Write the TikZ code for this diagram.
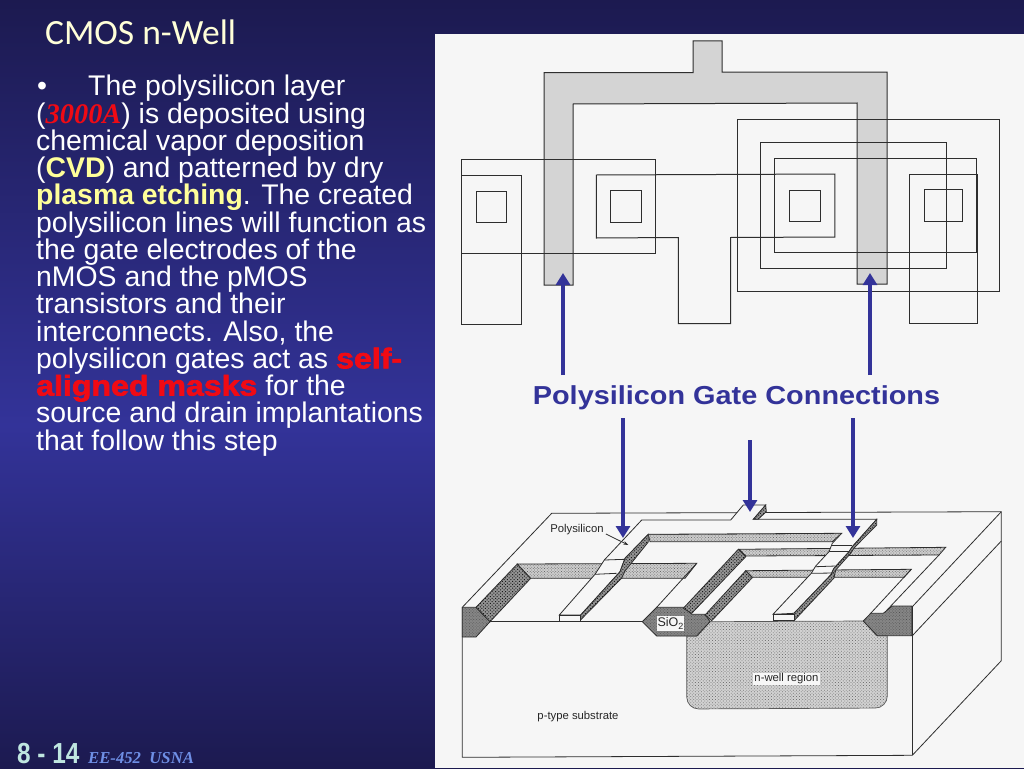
\documentclass[tikz,border=0pt]{standalone}
\usepackage{fontspec}
\setmainfont{Liberation Sans}
\newfontfamily\titlefont{Carlito}
\newfontfamily\serifbi{Liberation Serif}[BoldItalicFont={Liberation Serif Bold Italic}]
\newfontfamily\heavyfont{Liberation Sans Bold}[FakeBold=2.4,FakeStretch=1.13]
\usetikzlibrary{arrows.meta,patterns.meta}
\definecolor{navytop}{HTML}{1C1A50}
\definecolor{navymid}{HTML}{333399}
\definecolor{paper}{HTML}{F6F6F6}
\definecolor{linegray}{HTML}{2E2E2E}
\definecolor{softyellow}{HTML}{FFFF99}
\definecolor{paleyellow}{HTML}{FFFFD8}
\definecolor{maskred}{HTML}{F00A14}
\definecolor{footcyan}{HTML}{BFE6E0}
\definecolor{footblue}{HTML}{6F8FE6}
\begin{document}
\begin{tikzpicture}[x=1pt,y=-1pt,
  layout/.style={draw=linegray, line width=1pt},
  polyfill/.style={layout, preaction={fill=black!14}, pattern={Dots[distance=2pt,radius=.45pt,angle=0]}, pattern color=black!45},
  thinline/.style={draw=linegray, line width=.8pt},
  oxidedark/.style={thinline, preaction={fill=black!48}, pattern={Dots[distance=2pt,radius=.45pt,angle=45]}, pattern color=black!70},
  oxideband/.style={thinline, preaction={fill=black!42}, pattern={Dots[distance=2.4pt,radius=.7pt,angle=45]}, pattern color=black!90},
  oxidegray/.style={thinline, preaction={fill=black!20}, pattern={Dots[distance=2pt,radius=.5pt,angle=45]}, pattern color=black!60},
  wellfill/.style={draw=black!65, line width=.7pt, preaction={fill=black!18}, pattern={Dots[distance=2.2pt,radius=.55pt,angle=45]}, pattern color=black!55},
  polytop/.style={thinline, fill=paper},
  smalllabel/.style={font=\fontsize{11.3}{13}\selectfont, inner sep=1pt, text=black!85},
  bluearrow/.style={draw=navymid, line width=3.2pt, -{Triangle[length=12pt,width=14pt]}}
]
\useasboundingbox (0,0) rectangle (1024,768);
\shade[top color=navytop, bottom color=navymid] (0,0) rectangle (1024,425);
\shade[top color=navymid, bottom color=navytop] (0,425) rectangle (1024,768);
\fill[paper] (435,34) rectangle (1024,768);

\node[anchor=base west, inner sep=0pt, text=paleyellow, font=\titlefont\fontsize{35.5}{37}\selectfont] (title) at (45,45) {CMOS n-Well};
\node[anchor=north west, inner sep=0pt, align=left, text=white, font=\fontsize{28.4}{27.25}\selectfont] (bodytext) at (36,75) {%
\makebox[52pt][l]{\hspace{1pt}•}The polysilicon layer\\
({\serifbi\bfseries\itshape\color{maskred}3000A}) is deposited using\\
chemical vapor deposition\\
({\bfseries\color{softyellow}CVD}) and patterned by dry\\
{\bfseries\color{softyellow}plasma etching}. The created\\
polysilicon lines will function as\\
the gate electrodes of the\\
nMOS and the pMOS\\
transistors and their\\
interconnects. Also, the\\
polysilicon gates act as {\heavyfont\color{maskred}self-}\\
{\heavyfont\color{maskred}aligned masks} for the\\
source and drain implantations\\
that follow this step};
\node[anchor=base west, inner sep=0pt, text=footcyan, font=\bfseries\fontsize{29}{31}\selectfont, xscale=.84] (pagenum) at (17,763) {8 - 14};
\node[anchor=base west, inner sep=0pt, text=footblue, font=\serifbi\bfseries\itshape\fontsize{16.7}{18}\selectfont] (course) at (88,763) {EE-452\ \ USNA};

\draw[polyfill] (544,72.5) -- (693,72.5) -- (693,41) -- (722,41) -- (722,72) -- (887,72) -- (887,284) -- (857,284) -- (857,103) -- (573,104) -- (573,285) -- (544,285) -- cycle;
\draw[layout] (461.6,159.3) rectangle (655.6,253.3);
\draw[layout] (461.6,175.3) rectangle (521.6,324.3);
\draw[layout] (476.5,191) rectangle (506.7,222.7);
\draw[layout] (610.6,190.7) rectangle (641,222.3);
\draw[layout] (596.4,175) -- (834.8,174) -- (834.8,237) -- (730.5,237.5) -- (730.5,323.7) -- (678.4,323.7) -- (678.4,237.5) -- (596.4,238) -- cycle;
\draw[layout] (737.6,119) rectangle (999.4,291.7);
\draw[layout] (760.3,142.7) rectangle (946.9,268.7);
\draw[layout] (774.8,158.7) rectangle (976.7,252.7);
\draw[layout] (789.7,190) rectangle (820.3,221.7);
\draw[layout] (924.9,189.7) rectangle (962.2,221);
\draw[layout] (909.6,174) rectangle (977,323);

\draw[thinline] (551.7,513.3) -- (1001.3,511.7) -- (1001.3,660.7) -- (912.3,755.3) -- (462.3,757.3) -- (462.3,607.3) -- cycle;
\draw[thinline] (897,606.5) -- (912.3,606.7) -- (1001.3,511.7);
\draw[thinline] (912.3,606.7) -- (912.3,755.3);
\draw[thinline] (912.3,635.7) -- (1001.3,541);
\draw[thinline] (490,621.7) -- (643.3,621.7);

\draw[wellfill] (710,621.7) -- (696.7,636) -- (686.7,636) [rounded corners=12pt] -- (686.7,709) -- (887.3,708) [sharp corners] -- (887.3,635.7) -- (877,635.7) -- (863.3,621) -- cycle;
\draw[oxidedark] (462.3,607.3) -- (476,607.3) -- (490,621.7) -- (476,637) -- (462.3,637) -- cycle;
\draw[oxideband] (476,607.3) -- (517.3,564) -- (530.7,578.3) -- (490,621.7) -- cycle;
\draw[oxidegray] (517.3,564) -- (696.7,563.3) -- (685,578.3) -- (530.7,578.3) -- cycle;
\draw[thinline] (696.7,563.3) -- (656.7,607.3);
\draw[oxidedark] (642.3,621.7) -- (656.7,607.3) -- (684,607.3) -- (691.7,614.3) -- (705,614.3) -- (710,621.7) -- (696.7,636) -- (656.7,636) -- cycle;
\draw[oxidedark] (863.3,621) -- (870.7,613.3) -- (883.3,613.3) -- (892.3,606) -- (911.7,606) -- (911.7,635.7) -- (877.3,635.7) -- cycle;
\draw[oxidegray] (739,549.3) -- (945.7,547.3) -- (939,555) -- (745.7,556) -- cycle;
\draw[oxidegray] (745.7,570.7) -- (911.3,569.3) -- (904,577.3) -- (752.3,577.3) -- cycle;
\draw[oxidegray] (648.3,534.3) -- (841.7,533.3) -- (832.3,541.7) -- (650,541.7) -- cycle;
\draw[oxideband] (683.3,608.3) -- (738.3,549.3) -- (745.7,556.7) -- (691.7,613.3) -- cycle;
\draw[oxideband] (705,615) -- (745.7,570.7) -- (752.3,577.7) -- (711.7,620.7) -- cycle;
\draw[thinline] (911.3,569.3) -- (870.7,613.3);
\draw[thinline] (939,555) -- (887,610);

\draw[polytop] (559.3,615) -- (595,574.3) -- (604.3,560) -- (641.7,520) -- (730.7,520) -- (743.3,505) -- (765.7,505) -- (753.3,519.3) -- (876.7,519.3) -- (852.3,546.7) -- (849,551.7) -- (834,568.3) -- (830.7,575) -- (794,613.3) -- (773,614.3) -- (811.3,573.3) -- (815.7,566) -- (829,551.7) -- (832.3,543.3) -- (841.7,533.3) -- (648.3,534.3) -- (625,558.3) -- (620,571.7) -- (580.7,615) -- cycle;
\draw[oxideband] (580.7,615) -- (580,620.5) -- (621.7,578) -- (625,571) -- (648.3,542) -- (648.3,534.3) -- (625,558.3) -- (620,571.7) -- cycle;
\draw[oxideband] (794,613.3) -- (794.7,620) -- (834,578) -- (835.7,570) -- (850.7,553.3) -- (854,548) -- (876.7,525) -- (876.7,519.3) -- (852.3,546.7) -- (849,551.7) -- (834,568.3) -- (830.7,575) -- cycle;
\draw[oxideband] (765.7,505) -- (766.3,511.7) -- (758,519.3) -- (753.3,519.3) -- cycle;
\draw[polytop] (559.3,615) rectangle (580.7,621);
\draw[polytop] (773,614.3) rectangle (794.7,620);
\draw[thinline] (604.3,560) -- (625,559.3);
\draw[thinline] (595,574.3) -- (616.7,573.3);
\draw[thinline] (811.3,573.3) -- (834,573);
\draw[thinline] (815.7,566.7) -- (835.7,566);
\draw[thinline] (829,551.7) -- (849,551.7);
\draw[thinline] (832.3,545) -- (852.3,545);

\node[smalllabel, anchor=center] (polylabel) at (577,530) {Polysilicon};
\coordinate (polytip) at (628.3,545);
\draw[thinline, -{Stealth[length=5pt,width=3.5pt]}] (polylabel.east) ++(1,4) -- (polytip);
\node[smalllabel, anchor=center] (sublabel) at (578,716.5) {p-type substrate};
\node[smalllabel, anchor=center, fill=paper] (welllabel) at (786.5,679) {n-well region};
\node[smalllabel, anchor=center, fill=paper, font=\fontsize{12.5}{14}\selectfont, minimum width=25pt, minimum height=15pt] (oxidelabel) at (670.5,623.5) {SiO\raisebox{-2.5pt}{\fontsize{9}{10}\selectfont 2}};

\node[anchor=center, inner sep=0pt, text=navymid, font=\bfseries\fontsize{26}{28}\selectfont, xscale=1.11] (gatelabel) at (736.5,398) {Polysilicon Gate Connections};
\coordinate (plangateL) at (563,273);
\coordinate (plangateR) at (870,273);
\coordinate (planfootL) at (563,375);
\coordinate (planfootR) at (870,375);
\coordinate (sidefootL) at (623,418);
\coordinate (sidefootM) at (750,440);
\coordinate (sidefootR) at (853,418);
\coordinate (sidegateL) at (623,538);
\coordinate (sidegateM) at (750,512);
\coordinate (sidegateR) at (853,538);
\draw[bluearrow] (planfootL) -- (plangateL);
\draw[bluearrow] (planfootR) -- (plangateR);
\draw[bluearrow] (sidefootL) -- (sidegateL);
\draw[bluearrow] (sidefootM) -- (sidegateM);
\draw[bluearrow] (sidefootR) -- (sidegateR);
\end{tikzpicture}
\end{document}
